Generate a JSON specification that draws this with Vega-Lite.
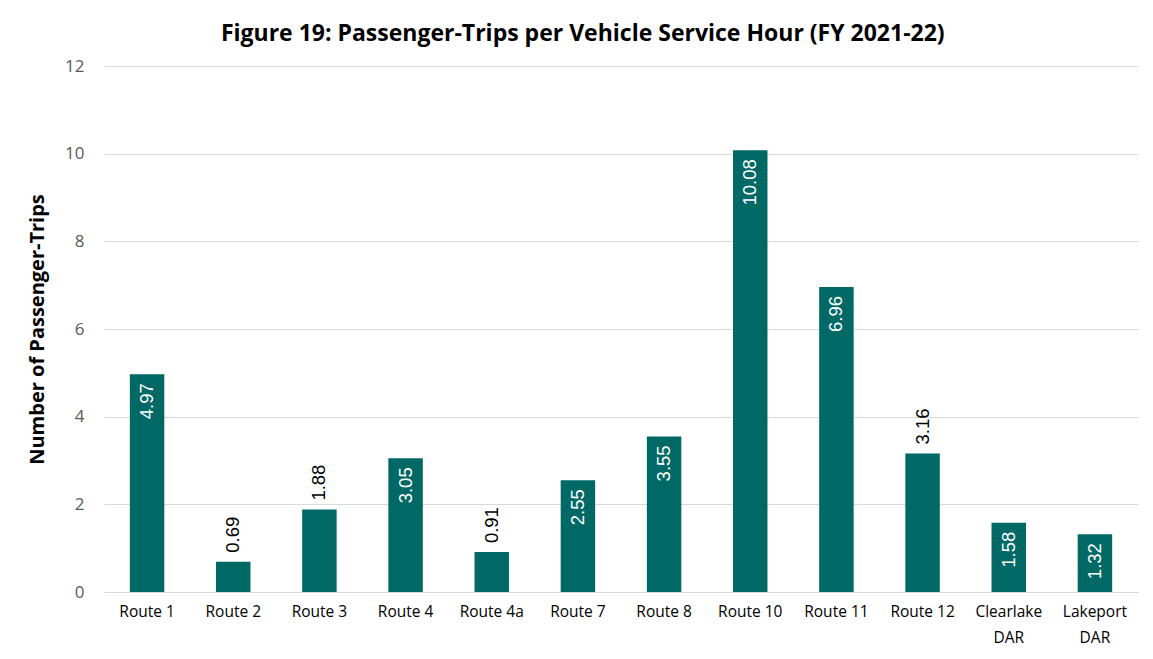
{
  "$schema": "https://vega.github.io/schema/vega-lite/v6.json",
  "width": 1034,
  "height": 526,
  "autosize": {"type": "none"},
  "padding": {"left": 104, "top": 66, "right": 15, "bottom": 67},
  "background": "white",
  "title": {
    "text": "Figure 19: Passenger-Trips per Vehicle Service Hour (FY 2021-22)",
    "font": "Open Sans",
    "fontSize": 23,
    "fontWeight": "bold",
    "color": "#000000",
    "anchor": "middle",
    "frame": "bounds",
    "offset": 11
  },
  "data": {
    "values": [
      {"route": "Route 1", "value": 4.97},
      {"route": "Route 2", "value": 0.69},
      {"route": "Route 3", "value": 1.88},
      {"route": "Route 4", "value": 3.05},
      {"route": "Route 4a", "value": 0.91},
      {"route": "Route 7", "value": 2.55},
      {"route": "Route 8", "value": 3.55},
      {"route": "Route 10", "value": 10.08},
      {"route": "Route 11", "value": 6.96},
      {"route": "Route 12", "value": 3.16},
      {"route": "Clearlake DAR", "value": 1.58},
      {"route": "Lakeport DAR", "value": 1.32}
    ]
  },
  "encoding": {
    "x": {
      "field": "route",
      "type": "nominal",
      "sort": null,
      "scale": {"paddingInner": 0.6, "paddingOuter": 0.3},
      "axis": {
        "title": null,
        "labelAngle": 0,
        "labelFont": "Open Sans",
        "labelFontSize": 15.5,
        "labelColor": "#000000",
        "labelPadding": 12,
        "labelExpr": "indexof(datum.label, 'DAR') > 0 ? split(datum.label, ' ') : datum.label",
        "labelLineHeight": 26,
        "ticks": false,
        "domainColor": "#d9d9d9",
        "domainWidth": 1
      }
    },
    "y": {
      "field": "value",
      "type": "quantitative",
      "scale": {"domain": [0, 12]},
      "axis": {
        "values": [0, 2, 4, 6, 8, 10, 12],
        "title": "Number of Passenger-Trips",
        "titleFont": "Open Sans",
        "titleFontSize": 20,
        "titleFontWeight": "bold",
        "titleColor": "#000000",
        "titlePadding": 17,
        "labelFont": "Open Sans",
        "labelFontSize": 17,
        "labelColor": "#595959",
        "labelPadding": 20,
        "ticks": false,
        "domain": false,
        "gridColor": "#d9d9d9",
        "gridWidth": 1
      }
    }
  },
  "layer": [
    {"mark": {"type": "bar", "color": "#006966"}},
    {
      "transform": [{"filter": "indexof(['Route 2','Route 3','Route 4a','Route 12'], datum.route) < 0"}],
      "mark": {"type": "text", "angle": 270, "align": "right", "baseline": "middle", "dx": -9, "color": "white", "font": "Liberation Sans", "fontSize": 18.5},
      "encoding": {"text": {"field": "value", "type": "quantitative", "format": ".2f"}}
    },
    {
      "transform": [{"filter": "indexof(['Route 2','Route 3','Route 4a','Route 12'], datum.route) >= 0"}],
      "mark": {"type": "text", "angle": 270, "align": "left", "baseline": "middle", "dx": 9, "color": "black", "font": "Liberation Sans", "fontSize": 18.5},
      "encoding": {"text": {"field": "value", "type": "quantitative", "format": ".2f"}}
    }
  ],
  "config": {"view": {"stroke": null}}
}
